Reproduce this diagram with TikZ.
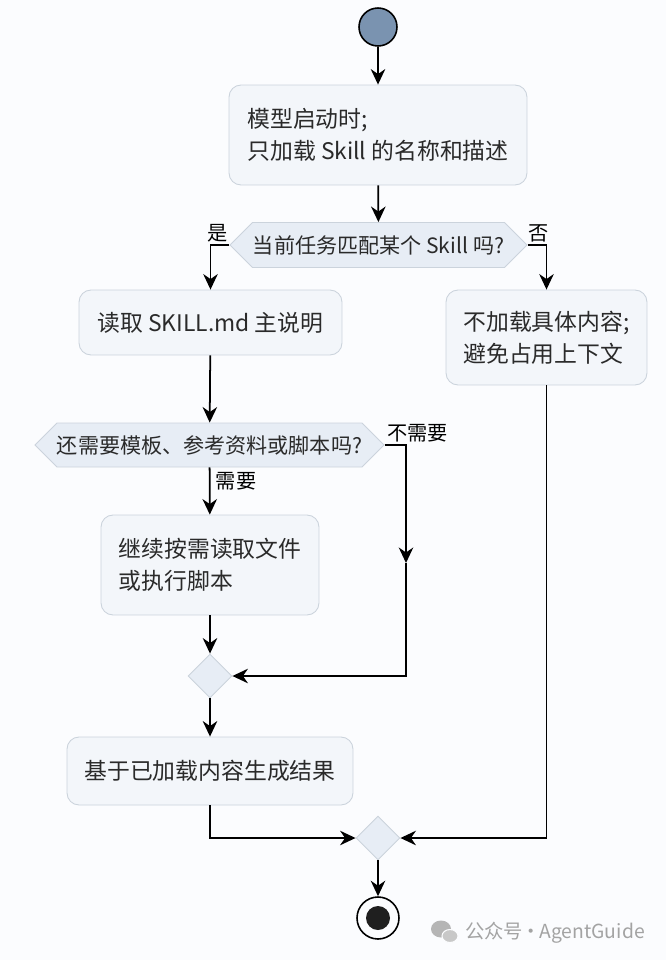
\documentclass[tikz,border=0pt]{standalone}
\usepackage{fontspec}
\setmainfont{Noto Sans CJK SC}
\usetikzlibrary{arrows.meta,shapes.geometric,shapes.symbols}
\definecolor{pagebg}{HTML}{FBFCFE}
\definecolor{boxfill}{HTML}{F3F6FA}
\definecolor{choicefill}{HTML}{E7EDF5}
\definecolor{boxline}{HTML}{CBD3DC}
\definecolor{startfill}{HTML}{7A93B0}
\definecolor{txtgray}{HTML}{2A2A2A}
\definecolor{wmgray}{HTML}{A3A3A3}

\begin{document}
\begin{tikzpicture}[x=0.02cm, y=-0.02cm,
	actbox/.style={draw=boxline, fill=boxfill, rounded corners=0.24cm, line width=0.5pt, align=left, inner sep=0pt, text=txtgray, font=\fontsize{13pt}{18pt}\selectfont},
	choice/.style={shape=signal, signal to=west and east, signal pointer angle=90, draw=boxline, fill=choicefill, line width=0.5pt, inner sep=0pt, text=txtgray, font=\fontsize{12pt}{14pt}\selectfont},
	merge/.style={diamond, draw=boxline, fill=choicefill, line width=0.5pt, minimum width=0.88cm, minimum height=0.88cm, inner sep=0pt},
	flow/.style={line width=1pt, -{Stealth[length=0.31cm,width=0.29cm,inset=0.1cm]}},
	branch/.style={font=\fontsize{11.5pt}{13pt}\selectfont, text=black, inner sep=1pt}]

	\fill[pagebg] (0,0) rectangle (666,960);
	\useasboundingbox (0,0) rectangle (666,960);

	\node[circle, draw=black, fill=startfill, line width=0.9pt, minimum size=0.76cm, inner sep=0pt] (start) at (378,27) {};
	\node[actbox, minimum width=5.96cm, minimum height=2cm] (load) at (378,135) {模型启动时;\\只加载 Skill 的名称和描述};
	\node[choice, minimum width=5.94cm, minimum height=0.9cm] (match) at (378.5,245) {当前任务匹配某个 Skill 吗?};
	\node[actbox, minimum width=5.26cm, minimum height=1.3cm] (readmd) at (210.5,322.5) {读取 SKILL.md 主说明};
	\node[actbox, minimum width=4.02cm, minimum height=1.9cm] (noload) at (546.5,337.5) {不加载具体内容;\\避免占用上下文};
	\node[choice, minimum width=6.9cm, minimum height=0.88cm] (needmore) at (209.5,445) {还需要模板、参考资料或脚本吗?};
	\node[actbox, minimum width=4.36cm, minimum height=2cm] (readfile) at (210,565) {继续按需读取文件\\或执行脚本};
	\node[merge] (mergea) at (210,676) {};
	\node[actbox, minimum width=5.72cm, minimum height=1.36cm] (result) at (210,771) {基于已加载内容生成结果};
	\node[merge] (mergeb) at (378,838) {};
	\node[circle, draw=black, line width=0.9pt, minimum size=0.84cm, inner sep=0pt] (stop) at (378,918) {};
	\fill[black!88] (stop) circle (0.24cm);
	\coordinate (skip) at (406,563);

	\draw[flow] (start) -- (load);
	\draw[flow] (load) -- (match);
	\draw[flow] (match.west) -| node[branch, above, pos=0.3] {是} (readmd.north);
	\draw[flow] (match.east) -| node[branch, above, pos=0.3] {否} (noload.north);
	\draw[flow] (readmd) -- (needmore);
	\draw[flow] (needmore) -- node[branch, right, pos=0.3, xshift=2pt] {需要} (readfile);
	\draw[flow] (needmore.east) -| node[branch, anchor=south west, pos=0] {不需要} (skip);
	\draw[flow] (skip) |- (mergea.east);
	\draw[flow] (readfile) -- (mergea);
	\draw[flow] (mergea) -- (result);
	\draw[flow] (result.south) |- (mergeb.west);
	\draw[flow] (noload.south) |- (mergeb.east);
	\draw[flow] (mergeb) -- (stop);

	\fill[wmgray!80] (441,929) ellipse (0.2cm and 0.17cm);
	\fill[wmgray!60, draw=pagebg, line width=0.6pt] (450,936) ellipse (0.16cm and 0.13cm);
	\node[anchor=west, text=wmgray, font=\fontsize{11pt}{13pt}\selectfont] (mark) at (459,933) {公众号\hspace{-0.03cm}·\hspace{-0.03cm}AgentGuide};
\end{tikzpicture}
\end{document}
